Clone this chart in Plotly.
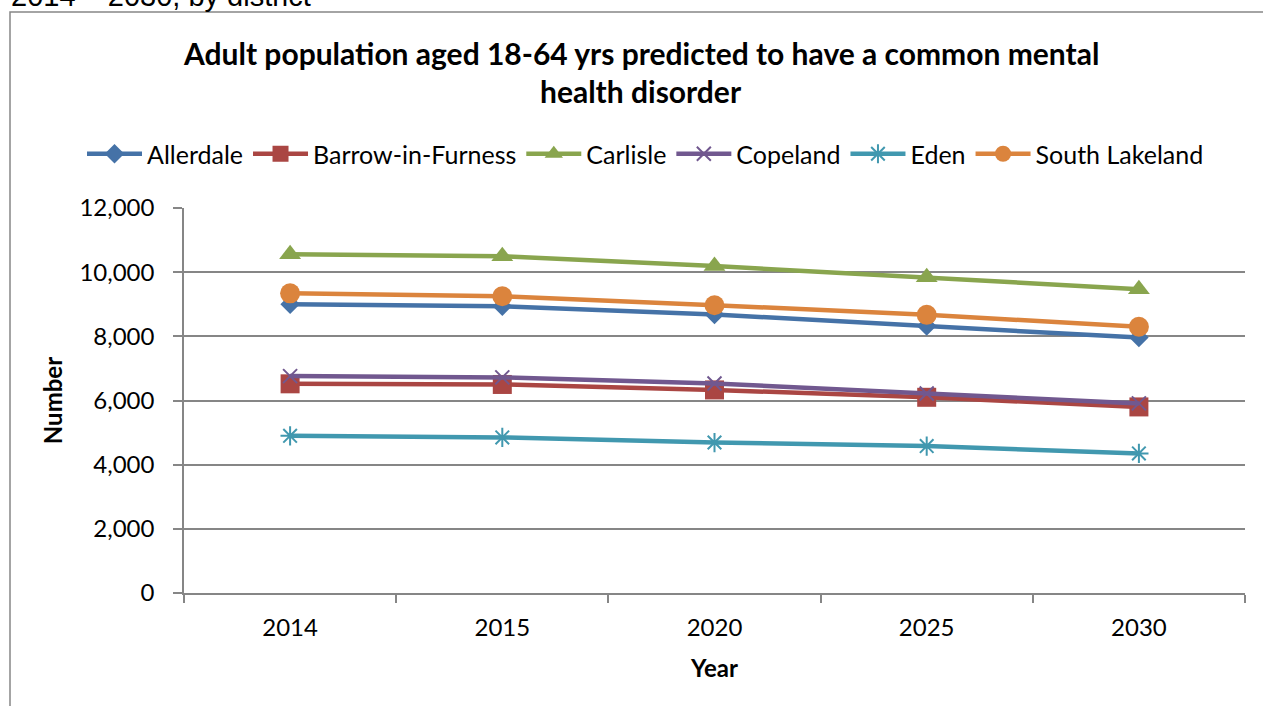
import plotly.graph_objects as go

years = ["2014", "2015", "2020", "2025", "2030"]
allerdale = [9000, 8940, 8680, 8320, 7960]
barrow = [6520, 6500, 6330, 6100, 5800]
carlisle = [10560, 10500, 10190, 9840, 9470]
copeland = [6760, 6720, 6530, 6220, 5910]
eden = [4900, 4850, 4690, 4580, 4350]
south_lakeland = [9340, 9250, 8970, 8670, 8300]

W, H = 1263, 706
L, R, T, B = 184, 18, 208, 113
PW, PH = W - L - R, H - T - B

def px(x):
    return (x - L) / PW

def py(y):
    return (H - B - y) / PH

FONT = "Lato"
GRID = "#868686"

series = [
    ("Allerdale", allerdale, "#4572A7", dict(symbol="diamond", size=15)),
    ("Barrow-in-Furness", barrow, "#AA4643", dict(symbol="square", size=19)),
    ("Carlisle", carlisle, "#89A54E", dict(symbol="triangle-up", size=19)),
    ("Copeland", copeland, "#71588F", dict(symbol="x-thin", size=14, line=dict(width=2, color="#71588F"))),
    ("Eden", eden, "#4198AF", dict(symbol="asterisk-open", size=16, line=dict(width=2, color="#4198AF"))),
    ("South Lakeland", south_lakeland, "#DB843D", dict(symbol="circle", size=20)),
]

fig = go.Figure()
for name, vals, col, mk in series:
    fig.add_trace(go.Scatter(
        x=years, y=vals, name=name, mode="lines+markers",
        line=dict(color=col, width=4.5),
        marker=dict(color=col, **mk),
    ))

fig.update_layout(
    width=W, height=H,
    margin=dict(l=L, r=R, t=T, b=B, autoexpand=False),
    paper_bgcolor="white", plot_bgcolor="white",
    font=dict(family=FONT, size=24, color="black"),
    showlegend=True,
    legend=dict(orientation="h", x=px(82), xanchor="left", y=py(154), yanchor="middle",
                font=dict(family=FONT, size=25, color="black"), itemwidth=55,
                bgcolor="rgba(0,0,0,0)", tracegroupgap=0),
    xaxis=dict(type="category", categoryorder="array", categoryarray=years,
               range=[-0.5, 4.5], tickson="boundaries", ticks="outside", ticklen=8,
               tickcolor=GRID, tickwidth=1.5, showline=True, linecolor=GRID, linewidth=1.5,
               showgrid=False, tickfont=dict(family=FONT, size=24),
               ticklabelstandoff=12,
               title=dict(text="<b>Year</b>", font=dict(family=FONT, size=24), standoff=21)),
    yaxis=dict(range=[0, 12000], dtick=2000, tickformat=",", ticks="outside", ticklen=9,
               tickcolor=GRID, tickwidth=1.5, showline=True, linecolor=GRID, linewidth=1.5,
               showgrid=True, gridcolor=GRID, gridwidth=1.5, zeroline=False,
               tickfont=dict(family=FONT, size=24), ticklabelstandoff=14,
               title=dict(text="<b>Number</b>", font=dict(family=FONT, size=24), standoff=10)),
    annotations=[
        dict(text="<b>Adult population aged 18-64 yrs predicted to have a common mental</b>",
             xref="paper", yref="paper", x=px(641), y=py(53), xanchor="center", yanchor="middle",
             showarrow=False, font=dict(family=FONT, size=30, color="black")),
        dict(text="<b>health disorder</b>",
             xref="paper", yref="paper", x=px(641), y=py(91), xanchor="center", yanchor="middle",
             showarrow=False, font=dict(family=FONT, size=30, color="black")),
        dict(text="2014 – 2030, by district",
             xref="paper", yref="paper", x=px(9), y=py(-4), xanchor="left", yanchor="middle",
             showarrow=False, font=dict(family="Liberation Sans", size=29, color="black")),
    ],
    shapes=[
        dict(type="rect", xref="paper", yref="paper", x0=px(10), x1=px(1275), y0=py(720), y1=py(12),
             line=dict(color=GRID, width=1.5), fillcolor="rgba(0,0,0,0)", layer="below"),
    ],
)

fig.write_html("out.html")
